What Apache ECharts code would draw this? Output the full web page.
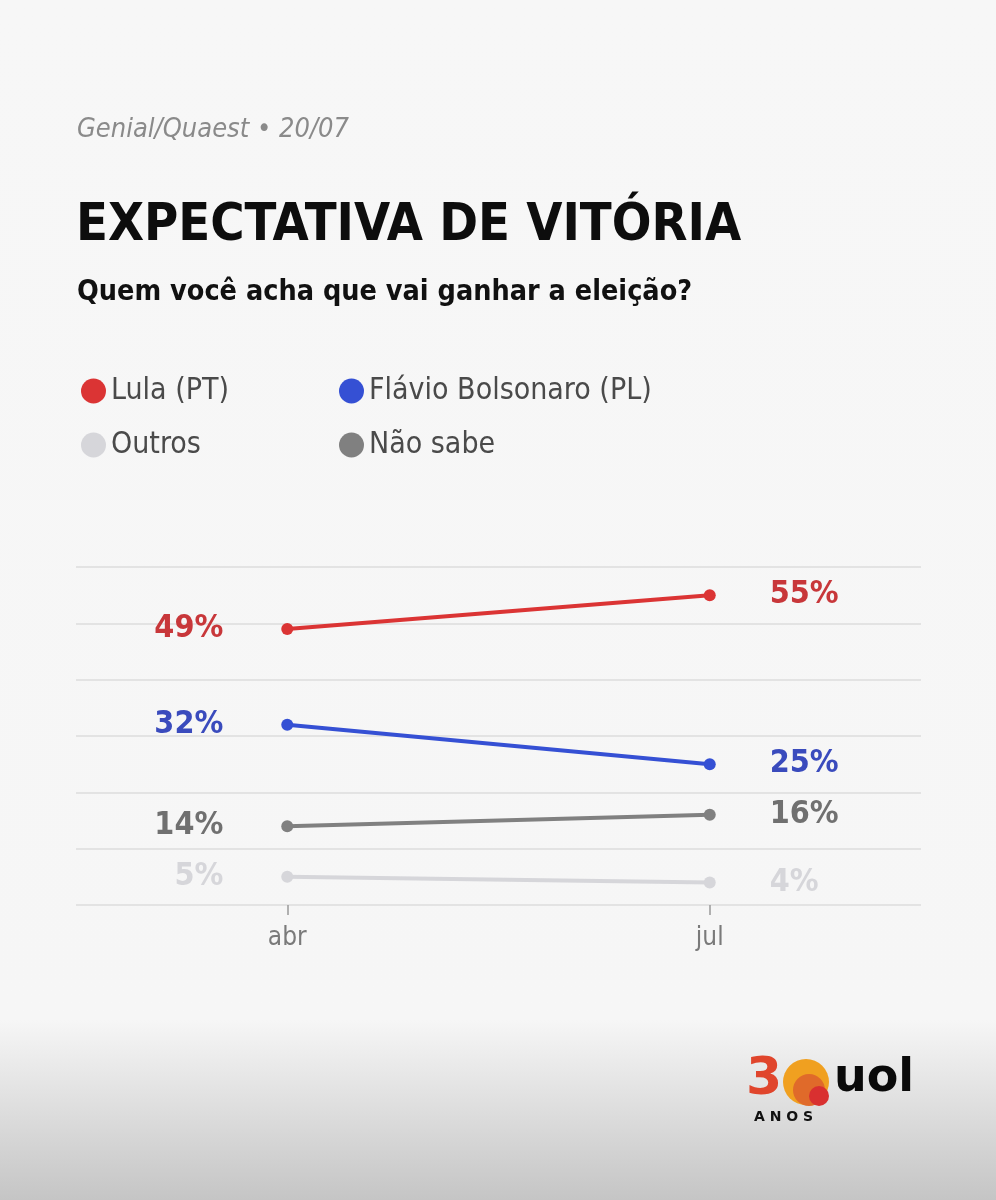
<!DOCTYPE html>
<html>
<head>
<meta charset="utf-8" />
<title>Expectativa de vitória</title>
<style>
    html, body { margin: 0; padding: 0; }
    body {
        width: 996px; height: 1200px;
        background: linear-gradient(to bottom, #f7f7f7 0px, #f6f6f6 1020px, #c5c5c5 1200px);
    }
    #chart { width: 996px; height: 1200px; }
</style>
</head>
<body>
<div id="chart"></div>
<script src="https://cdn.jsdelivr.net/npm/echarts@6/dist/echarts.min.js"></script>
<script>
// dados da pesquisa
var meses = ['abr', 'jul'];
var lula = [49, 55];
var flavio = [32, 25];
var outros = [5, 4];
var naoSabe = [14, 16];

var FONTE = "'Liberation Sans Narrow', 'DejaVu Sans Condensed', 'Roboto', sans-serif";

// rótulo à esquerda no primeiro ponto, à direita no último
function pontos(valores, cor) {
    return valores.map(function (v, i) {
        return {
            value: v,
            label: {
                position: i === 0 ? 'left' : 'right',
                distance: i === 0 ? 58 : 54,
                color: cor
            }
        };
    });
}

function serie(nome, valores, corLinha, corTexto) {
    return {
        name: nome,
        type: 'line',
        data: pontos(valores, corTexto),
        symbol: 'circle',
        symbolSize: 12,
        lineStyle: { width: 4, color: corLinha },
        itemStyle: { color: corLinha },
        label: {
            show: true,
            formatter: '{c}%',
            fontFamily: FONTE,
            fontWeight: 'bold',
            fontSize: 32
        },
        emphasis: { disabled: true }
    };
}

var myChart = echarts.init(document.getElementById('chart'));
var option = {
    backgroundColor: 'transparent',
    animation: false,
    title: [
        {
            text: 'Genial/Quaest • 20/07',
            left: 72, top: 111,
            textStyle: { fontFamily: FONTE, fontStyle: 'italic', fontWeight: 'normal', fontSize: 27, color: '#8a8a8a' }
        },
        {
            text: 'EXPECTATIVA DE VITÓRIA',
            left: 71, top: 195,
            textStyle: { fontFamily: FONTE, fontWeight: 'bold', fontSize: 52, color: '#0d0d0d' }
        },
        {
            text: 'Quem você acha que vai ganhar a eleição?',
            left: 72, top: 273,
            textStyle: { fontFamily: FONTE, fontWeight: 'bold', fontSize: 28.5, color: '#111' }
        }
    ],
    legend: [
        {
            data: ['Lula (PT)', 'Outros'],
            orient: 'vertical',
            left: 76, top: 371,
            icon: 'circle',
            itemWidth: 25, itemHeight: 25,
            itemGap: 24,
            textStyle: { fontFamily: FONTE, fontSize: 30, color: '#4a4a4a', padding: [0, 0, 0, 0] },
            selectedMode: false
        },
        {
            data: ['Flávio Bolsonaro (PL)', 'Não sabe'],
            orient: 'vertical',
            left: 334, top: 371,
            icon: 'circle',
            itemWidth: 25, itemHeight: 25,
            itemGap: 24,
            textStyle: { fontFamily: FONTE, fontSize: 30, color: '#4a4a4a', padding: [0, 0, 0, 0] },
            selectedMode: false
        }
    ],
    grid: { left: 76, right: 75, top: 567, bottom: 295, containLabel: false },
    xAxis: {
        type: 'category',
        data: meses,
        boundaryGap: true,
        axisLine: { show: false },
        axisTick: { show: true, alignWithLabel: true, length: 10, lineStyle: { color: '#999', width: 1.5 } },
        axisLabel: { fontFamily: FONTE, fontSize: 26, color: '#7a7a7a', margin: 20 }
    },
    yAxis: {
        type: 'value',
        min: 0, max: 60, interval: 10,
        axisLabel: { show: false },
        axisLine: { show: false },
        axisTick: { show: false },
        splitLine: { lineStyle: { color: '#dcdcdc', width: 1.5 } }
    },
    series: [
        serie('Lula (PT)', lula, '#db3434', '#c8373a'),
        serie('Flávio Bolsonaro (PL)', flavio, '#3550d4', '#3a4bbd'),
        serie('Outros', outros, '#d6d6da', '#d6d6da'),
        serie('Não sabe', naoSabe, '#808080', '#707070')
    ],
    graphic: [
        // logo "30 uol / ANOS"
        { type: 'text', left: 746, top: 1054, style: { text: '3', font: "bold 52px 'DejaVu Sans'", fill: '#e0452c' } },
        { type: 'circle', shape: { cx: 806, cy: 1082, r: 23 }, style: { fill: '#f0a020' } },
        { type: 'circle', shape: { cx: 809, cy: 1090, r: 16 }, style: { fill: '#e06a2a' } },
        { type: 'circle', shape: { cx: 819, cy: 1096, r: 10 }, style: { fill: '#d93030' } },
        { type: 'text', left: 834, top: 1056, style: { text: 'uol', font: "900 46px 'DejaVu Sans'", fill: '#0a0a0a' } },
        { type: 'text', left: 754, top: 1110, style: { text: 'A N O S', font: "bold 14px 'DejaVu Sans'", fill: '#111' } }
    ]
};
myChart.setOption(option);
</script>
</body>
</html>
